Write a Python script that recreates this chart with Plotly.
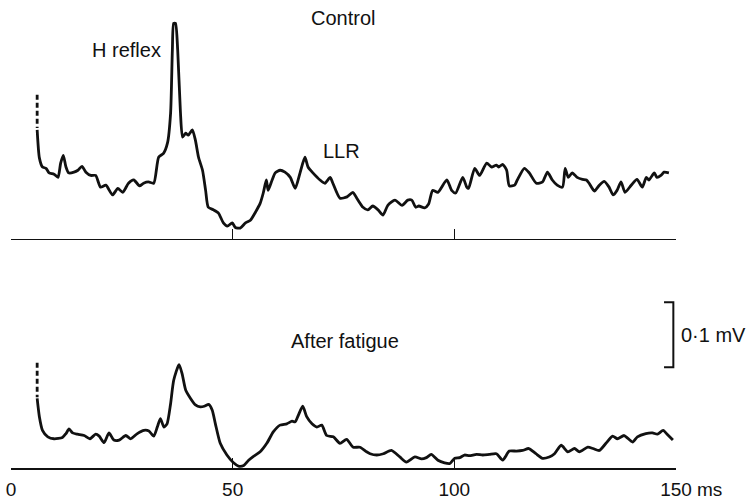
import plotly.graph_objects as go

# ---- Data (time in ms, amplitude in µV above baseline) ----
control_t = [5.9, 6.4, 7.1, 7.9, 8.6, 9.7, 10.6, 11.2, 11.8, 12.4,
             13.0, 14.2, 15.1, 16.0, 16.9, 18.0, 19.1, 20.2, 21.4, 22.9,
             24.1, 25.2, 26.5, 27.7, 29.0, 29.9, 31.0, 32.2, 33.3, 34.4,
             35.3, 36.0, 36.4, 36.7, 37.1, 37.6, 38.2, 38.7, 39.4, 40.0,
             40.9, 41.6, 42.3, 43.2, 43.9, 44.5, 45.7, 46.8, 47.9, 48.8,
             49.9, 50.6, 51.7, 52.9, 54.0, 55.1, 56.2, 56.9, 57.6, 58.0,
             58.9, 59.6, 60.7, 61.8, 63.0, 64.1, 65.2, 66.3, 67.0, 68.1,
             69.7, 70.8, 72.0, 72.6, 74.2, 75.8, 77.1, 78.0, 79.4, 80.5,
             81.6, 82.8, 83.9, 85.0, 86.6, 88.2, 89.5, 90.4, 91.3, 92.0,
             93.3, 94.2, 95.1, 96.3, 98.3, 99.4, 100.3, 101.9, 102.8, 103.2,
             104.6, 105.7, 107.3, 108.4, 109.5, 110.0, 110.9, 111.8, 112.4, 113.6,
             114.2, 115.8, 116.9, 118.5, 119.9, 121.0, 122.1, 123.2, 124.4, 125.0,
             125.7, 126.6, 127.7, 128.9, 129.8, 130.4, 131.6, 132.7, 133.8, 134.9,
             135.8, 136.7, 137.6, 138.5, 139.9, 141.2, 142.4, 143.3, 143.9, 145.1,
             145.7, 146.6, 147.3, 148.4]
control_uv = [167, 124, 110, 108, 101, 99, 94, 116, 128, 110,
              101, 102, 105, 111, 102, 97, 97, 79, 82, 67,
              77, 71, 85, 90, 81, 85, 87, 85, 125, 131,
              147, 193, 290, 331, 331, 290, 197, 156, 162, 159,
              167, 151, 125, 105, 74, 48, 44, 39, 24, 19,
              24, 17, 16, 24, 28, 40, 54, 70, 90, 74,
              90, 101, 105, 102, 94, 77, 101, 125, 110, 101,
              90, 85, 94, 85, 62, 64, 71, 62, 48, 44,
              50, 44, 36, 51, 59, 51, 59, 59, 48, 50,
              47, 53, 74, 71, 90, 74, 70, 94, 79, 77,
              108, 97, 116, 110, 113, 110, 114, 105, 81, 82,
              90, 108, 101, 85, 87, 102, 90, 82, 79, 108,
              94, 101, 94, 91, 90, 85, 73, 82, 88, 79,
              67, 74, 87, 71, 82, 91, 79, 94, 90, 101,
              94, 97, 102, 101]

fatigue_t = [5.9, 6.4, 7.1, 8.3, 9.7, 11.6, 12.4, 13.1, 13.9, 15.0,
             16.5, 17.8, 19.1, 19.9, 21.0, 22.1, 23.2, 24.4, 25.9, 27.0,
             28.5, 30.0, 31.1, 32.2, 33.0, 33.7, 34.5, 35.2, 36.0, 36.7,
             37.9, 38.6, 39.4, 40.5, 41.6, 42.7, 43.6, 44.6, 45.4, 46.1,
             47.2, 48.7, 50.2, 51.3, 52.5, 53.6, 54.7, 56.2, 57.7, 59.2,
             60.7, 62.2, 63.4, 64.1, 64.8, 65.8, 66.7, 67.9, 69.0, 70.1,
             71.2, 72.7, 74.2, 75.7, 77.2, 78.7, 80.2, 81.0, 82.5, 84.0,
             85.8, 87.7, 89.2, 91.1, 92.6, 93.7, 94.8, 96.3, 97.8, 99.0,
             100.1, 101.2, 102.3, 103.4, 105.0, 106.4, 107.9, 109.5, 110.9, 112.4,
             114.0, 115.4, 116.8, 118.4, 119.9, 121.4, 122.6, 124.1, 125.6, 127.1,
             128.2, 130.1, 131.3, 132.7, 134.2, 135.7, 136.8, 138.3, 140.2, 141.3,
             143.2, 144.7, 145.8, 147.1, 148.0, 149.3]
fatigue_uv = [107, 79, 58, 48, 45, 47, 53, 60, 54, 52,
              50, 45, 52, 49, 39, 54, 43, 43, 50, 45,
              53, 58, 57, 49, 63, 76, 63, 68, 99, 135,
              159, 145, 120, 107, 97, 94, 95, 98, 89, 68,
              38, 20, 8, 3, 4, 12, 18, 25, 38, 56,
              66, 68, 72, 71, 81, 95, 79, 68, 63, 66,
              50, 48, 38, 44, 32, 32, 25, 22, 20, 22,
              27, 17, 9, 17, 14, 16, 21, 12, 8, 7,
              15, 16, 20, 19, 21, 20, 21, 22, 12, 26,
              26, 27, 30, 22, 15, 17, 22, 35, 25, 30,
              25, 32, 30, 27, 38, 49, 45, 50, 40, 48,
              53, 54, 52, 58, 52, 43]

# dashed (off-scale) stimulus artefact at trace start
control_artefact_t = [5.9, 5.9]
control_artefact_uv = [221, 170]
fatigue_artefact_t = [5.9, 5.9]
fatigue_artefact_uv = [162, 109]

tick_vals = [0, 50, 100, 150]
tick_text = ["0", "50", "100", "150"]

# calibration bar: 0.1 mV = 100 µV
cal_t = [147.3, 149.4, 149.4, 147.3]
cal_uv = [255, 255, 155, 155]

FONT = "Liberation Sans, Arial, Helvetica, sans-serif"
INK = "#111111"
LW = 2.8

fig = go.Figure()

fig.add_trace(go.Scatter(x=control_t, y=control_uv, mode="lines",
                         line=dict(color=INK, width=LW, shape="spline", smoothing=0.6),
                         xaxis="x", yaxis="y", hoverinfo="skip"))
fig.add_trace(go.Scatter(x=control_artefact_t, y=control_artefact_uv, mode="lines",
                         line=dict(color=INK, width=LW, dash="5px,3px"),
                         xaxis="x", yaxis="y", hoverinfo="skip"))
fig.add_trace(go.Scatter(x=fatigue_t, y=fatigue_uv, mode="lines",
                         line=dict(color=INK, width=LW, shape="spline", smoothing=0.6),
                         xaxis="x2", yaxis="y2", hoverinfo="skip"))
fig.add_trace(go.Scatter(x=fatigue_artefact_t, y=fatigue_artefact_uv, mode="lines",
                         line=dict(color=INK, width=LW, dash="5px,3px"),
                         xaxis="x2", yaxis="y2", hoverinfo="skip"))
fig.add_trace(go.Scatter(x=cal_t, y=cal_uv, mode="lines",
                         line=dict(color=INK, width=2), xaxis="x2", yaxis="y2",
                         hoverinfo="skip"))

xdom = [11 / 750, 676 / 750]
common_x = dict(domain=xdom, range=[0, 150], anchor="free", showline=True,
                linecolor=INK, linewidth=1.6, ticks="inside", ticklen=10,
                tickwidth=1.6, tickcolor=INK, tickvals=tick_vals,
                showgrid=False, zeroline=False, fixedrange=True,
                automargin=False)

fig.update_layout(
    width=750, height=500, autosize=False,
    margin=dict(l=0, r=0, t=0, b=0, pad=0, autoexpand=False),
    paper_bgcolor="white", plot_bgcolor="rgba(0,0,0,0)",
    showlegend=False,
    font=dict(family=FONT, size=19, color=INK),
    xaxis=dict(**common_x, position=1 - 238.5 / 500, showticklabels=False),
    yaxis=dict(domain=[0.5, 1.0], range=[-17.7, 366.9], visible=False,
               fixedrange=True, automargin=False),
    xaxis2=dict(**common_x, position=1 - 468 / 500, showticklabels=True,
                ticktext=tick_text, ticklabelstandoff=4,
                tickfont=dict(family=FONT, size=19, color=INK)),
    yaxis2=dict(domain=[0.0, 0.5], range=[-49.2, 335.4], visible=False,
                fixedrange=True, automargin=False),
)

def label(text, x, y, xanchor="center", size=20):
    fig.add_annotation(text=text, xref="paper", yref="paper",
                       x=x / 750, y=1 - y / 500, xanchor=xanchor, yanchor="middle",
                       showarrow=False, font=dict(family=FONT, size=size, color=INK))

label("Control", 343, 18)
label("H reflex", 126, 50)
label("LLR", 341, 151)
label("After fatigue", 345, 341)
label("0·1 mV", 679, 335, xanchor="left")
label("ms", 695, 489, xanchor="left", size=19)

fig.write_html("out.html", config={"responsive": False, "staticPlot": True})
